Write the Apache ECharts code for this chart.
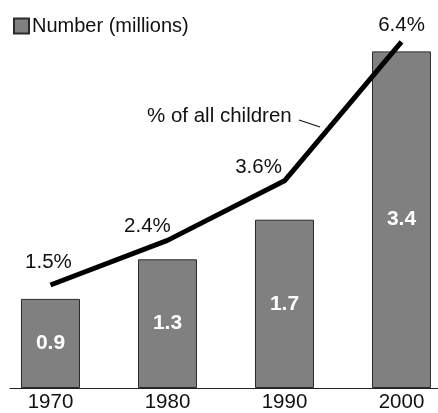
<!DOCTYPE html>
<html>
<head>
<meta charset="utf-8">
<script src="https://cdn.jsdelivr.net/npm/echarts@6/dist/echarts.min.js"></script>
<style>
    html, body { margin: 0; padding: 0; background: #fff; }
    #chart { width: 438px; height: 413px; }
</style>
</head>
<body>
<div id="chart"></div>
<script>
var years = [1970, 1980, 1990, 2000];
var numberMillions = [0.9, 1.3, 1.7, 3.4];
var pctChildren = [1.5, 2.4, 3.6, 6.4];
// where each % label sits relative to its point
var pctLabelOffsets = [[-2, -23], [-20, -14], [-26, -13], [0, -17]];

var font = "'Liberation Sans', Arial, sans-serif";

var chart = echarts.init(document.getElementById('chart'));

var barData = years.map(function (y, i) { return [y, numberMillions[i]]; });
var lineData = years.map(function (y, i) {
    return {
        value: [y, pctChildren[i]],
        label: { offset: pctLabelOffsets[i] }
    };
});

var option = {
    animation: false,
    textStyle: { fontFamily: font },
    legend: {
        left: 8,
        top: 11,
        itemWidth: 15,
        itemHeight: 15,
        data: [{ name: 'Number (millions)', icon: 'rect' }],
        textStyle: { fontFamily: font, fontSize: 20, color: '#111', padding: [0, 0, 0, -2] }
    },
    grid: { left: 10, right: 0, top: 20, bottom: 25, containLabel: false },
    xAxis: {
        type: 'value',
        min: 1966.54,
        max: 2003.12,
        splitLine: { show: false },
        axisLine: { show: true, lineStyle: { color: '#222', width: 1 } },
        axisTick: { show: false },
        axisLabel: {
            customValues: years,
            margin: 4,
            fontSize: 20.5,
            color: '#111',
            fontFamily: font,
            formatter: function (v) { return String(v); }
        }
    },
    yAxis: [
        { type: 'value', min: 0, max: 3.717, show: false },
        { type: 'value', min: -0.577, max: 6.843, show: false }
    ],
    series: [
        {
            name: 'Number (millions)',
            type: 'bar',
            barWidth: 59,
            data: barData,
            itemStyle: { color: '#808080', borderColor: '#2a2a2a', borderWidth: 1 },
            label: {
                show: true,
                position: 'inside',
                color: '#fff',
                fontWeight: 'bold',
                fontSize: 21,
                fontFamily: font,
                formatter: function (p) { return p.value[1].toFixed(1); }
            }
        },
        {
            name: '% of all children',
            type: 'line',
            yAxisIndex: 1,
            data: lineData,
            symbol: 'circle',
            symbolSize: 0,
            lineStyle: { color: '#000', width: 5 },
            itemStyle: { color: '#000' },
            label: {
                show: true,
                position: 'inside',
                fontSize: 20.5,
                color: '#111',
                fontFamily: font,
                formatter: function (p) { return p.value[1].toFixed(1) + '%'; }
            },
            z: 3
        }
    ],
    graphic: [
        {
            type: 'text',
            left: 147,
            top: 106,
            style: { text: '% of all children', font: '20.5px ' + font, fill: '#111' }
        },
        {
            type: 'line',
            shape: { x1: 299, y1: 120, x2: 320, y2: 127 },
            style: { stroke: '#111', lineWidth: 1.3 }
        }
    ]
};

chart.setOption(option);
</script>
</body>
</html>
